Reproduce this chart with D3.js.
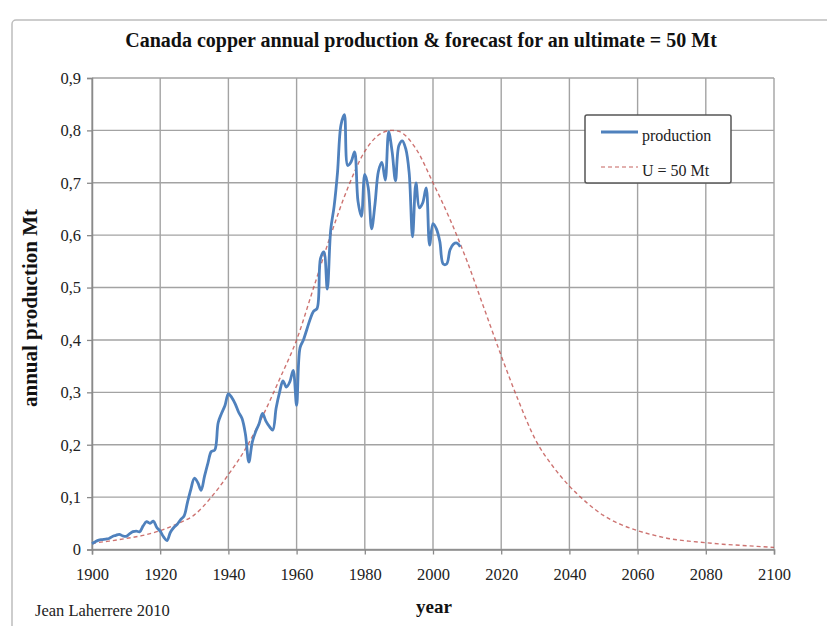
<!DOCTYPE html>
<html>
<head>
<meta charset="utf-8">
<script src="https://cdn.jsdelivr.net/npm/d3@7"></script>
<style>
  html, body { margin: 0; padding: 0; background: #fff; }
  svg { display: block; }
</style>
</head>
<body>
<svg id="chart" width="827" height="626"></svg>
<script>
// Canadian copper mine production, Mt per year, 1900-2008
const productionYears = d3.range(1900, 2009);
const productionValues = [
  0.011, 0.015, 0.018, 0.019, 0.020, 0.021, 0.025, 0.027, 0.029, 0.026,   // 1900-1909
  0.025, 0.030, 0.034, 0.035, 0.034, 0.045, 0.053, 0.050, 0.054, 0.042,   // 1910-1919
  0.035, 0.024, 0.017, 0.033, 0.042, 0.048, 0.057, 0.064, 0.090, 0.115,   // 1920-1929
  0.136, 0.128, 0.113, 0.140, 0.165, 0.187, 0.190, 0.242, 0.260, 0.275,   // 1930-1939
  0.297, 0.290, 0.278, 0.262, 0.250, 0.220, 0.167, 0.205, 0.225, 0.240,   // 1940-1949
  0.260, 0.245, 0.235, 0.228, 0.270, 0.300, 0.322, 0.310, 0.320, 0.342,   // 1950-1959
  0.275, 0.385, 0.400, 0.420, 0.440, 0.455, 0.460, 0.555, 0.568, 0.497,   // 1960-1969
  0.610, 0.655, 0.720, 0.810, 0.830, 0.733, 0.740, 0.759, 0.665, 0.636,   // 1970-1979
  0.716, 0.691, 0.612, 0.660, 0.722, 0.739, 0.705, 0.797, 0.760, 0.704,   // 1980-1989
  0.771, 0.780, 0.765, 0.720, 0.597, 0.700, 0.652, 0.662, 0.690, 0.581,   // 1990-1999
  0.622, 0.612, 0.588, 0.545, 0.545, 0.572, 0.583, 0.585, 0.578           // 2000-2008
];

// Forecast curve for an ultimate of 50 Mt, Mt per year
const forecastYears = [
  1900, 1905, 1910, 1915, 1920, 1925, 1930, 1935, 1940, 1945,
  1950, 1955, 1960, 1965, 1970, 1975, 1980, 1985, 1988, 1990,
  1995, 2000, 2005, 2010, 2015, 2020, 2025, 2030, 2035, 2040,
  2045, 2050, 2055, 2060, 2065, 2070, 2075, 2080, 2085, 2090,
  2095, 2100
];
const forecastValues = [
  0.012, 0.016, 0.021, 0.027, 0.036, 0.049, 0.066, 0.100, 0.143, 0.192,
  0.254, 0.325, 0.400, 0.500, 0.600, 0.690, 0.760, 0.795, 0.800, 0.798,
  0.765, 0.700, 0.630, 0.550, 0.460, 0.370, 0.285, 0.210, 0.160, 0.121,
  0.090, 0.065, 0.048, 0.036, 0.027, 0.020, 0.016, 0.013, 0.010, 0.008,
  0.006, 0.004
];

const xTicks = d3.range(1900, 2101, 20);
const yTicks = d3.range(0, 10).map(i => i / 10);

const titleText = "Canada copper annual production & forecast for an ultimate = 50 Mt";
const yLabelText = "annual production Mt";
const xLabelText = "year";
const creditText = "Jean Laherrere 2010";
const seriesNames = ["production", "U = 50 Mt"];

const production = productionYears.map((yr, i) => ({ yr, v: productionValues[i] }));
const forecast = forecastYears.map((yr, i) => ({ yr, v: forecastValues[i] }));

const svg = d3.select("#chart");
const serif = "'Liberation Serif', 'Times New Roman', serif";
const gridColor = "#a3a3a3";
const blue = "#4f81bd";
const red = "#c0504d";

// outer chart frame
svg.append("rect")
  .attr("x", 12).attr("y", 20)
  .attr("width", 840).attr("height", 640)
  .attr("rx", 4)
  .attr("fill", "#fff")
  .attr("stroke", "#bdbdbd")
  .attr("stroke-width", 1.5);

const x = d3.scaleLinear().domain([1900, 2100]).range([92, 774]);
const y = d3.scaleLinear().domain([0, 0.9]).range([549.5, 78]);

// gridlines
svg.append("g")
  .selectAll("line")
  .data(xTicks)
  .join("line")
  .attr("x1", d => x(d)).attr("x2", d => x(d))
  .attr("y1", y(0)).attr("y2", y(0.9))
  .attr("stroke", gridColor).attr("stroke-width", 1.4);

svg.append("g")
  .selectAll("line")
  .data(yTicks)
  .join("line")
  .attr("x1", x(1900)).attr("x2", x(2100))
  .attr("y1", d => y(d)).attr("y2", d => y(d))
  .attr("stroke", gridColor).attr("stroke-width", 1.4);

const fmtY = d => d === 0 ? "0" : d3.format(".1f")(d).replace(".", ",");

// axes
const xAxis = svg.append("g")
  .attr("transform", `translate(0,${y(0)})`)
  .call(d3.axisBottom(x).tickValues(xTicks).tickFormat(d3.format("d")).tickSize(5).tickPadding(14));
const yAxis = svg.append("g")
  .attr("transform", `translate(${x(1900)},0)`)
  .call(d3.axisLeft(y).tickValues(yTicks).tickFormat(fmtY).tickSize(5).tickPadding(6));

[xAxis, yAxis].forEach(g => {
  g.select(".domain").attr("stroke", "#8a8a8a").attr("stroke-width", 1.5);
  g.selectAll(".tick line").attr("stroke", "#8a8a8a").attr("stroke-width", 1.3);
  g.selectAll(".tick text")
    .attr("fill", "#222")
    .style("font-family", serif)
    .style("font-size", "16.5px");
});

// forecast curve
svg.append("path")
  .datum(forecast)
  .attr("fill", "none")
  .attr("stroke", red)
  .attr("stroke-opacity", 0.8)
  .attr("stroke-width", 1.4)
  .attr("stroke-dasharray", "4,3")
  .attr("d", d3.line().x(d => x(d.yr)).y(d => y(d.v)).curve(d3.curveMonotoneX));

// production line
svg.append("path")
  .datum(production)
  .attr("fill", "none")
  .attr("stroke", blue)
  .attr("stroke-width", 2.8)
  .attr("stroke-linejoin", "round")
  .attr("d", d3.line().x(d => x(d.yr)).y(d => y(d.v)).curve(d3.curveCatmullRom.alpha(0.5)));

// title
svg.append("text")
  .attr("x", 421).attr("y", 47)
  .attr("text-anchor", "middle")
  .style("font-family", serif)
  .style("font-weight", "bold")
  .style("font-size", "20px")
  .attr("fill", "#111")
  .text(titleText);

// axis titles
svg.append("text")
  .attr("transform", `translate(37,${308}) rotate(-90)`)
  .attr("text-anchor", "middle")
  .style("font-family", serif)
  .style("font-weight", "bold")
  .style("font-size", "21px")
  .attr("fill", "#111")
  .text(yLabelText);

svg.append("text")
  .attr("x", 434).attr("y", 613)
  .attr("text-anchor", "middle")
  .style("font-family", serif)
  .style("font-weight", "bold")
  .style("font-size", "19px")
  .attr("fill", "#111")
  .text(xLabelText);

svg.append("text")
  .attr("x", 35).attr("y", 616)
  .style("font-family", serif)
  .style("font-size", "16.5px")
  .attr("fill", "#222")
  .text(creditText);

// legend
const legend = svg.append("g");
legend.append("rect")
  .attr("x", 585).attr("y", 115)
  .attr("width", 146).attr("height", 68)
  .attr("rx", 2)
  .attr("fill", "#fff")
  .attr("stroke", "#555")
  .attr("stroke-width", 1.5);

const legendRows = [
  { name: seriesNames[0], color: blue, width: 2.8, dash: null, opacity: 1, cy: 132 },
  { name: seriesNames[1], color: red, width: 1.4, dash: "4,3", opacity: 0.6, cy: 167 }
];
legendRows.forEach(r => {
  legend.append("line")
    .attr("x1", 601).attr("x2", 638)
    .attr("y1", r.cy).attr("y2", r.cy)
    .attr("stroke", r.color)
    .attr("stroke-width", r.width)
    .attr("stroke-opacity", r.opacity)
    .attr("stroke-dasharray", r.dash);
  legend.append("text")
    .attr("x", 642).attr("y", r.cy + 9)
    .style("font-family", serif)
    .style("font-size", "16px")
    .attr("fill", "#222")
    .text(r.name);
});
</script>
</body>
</html>
